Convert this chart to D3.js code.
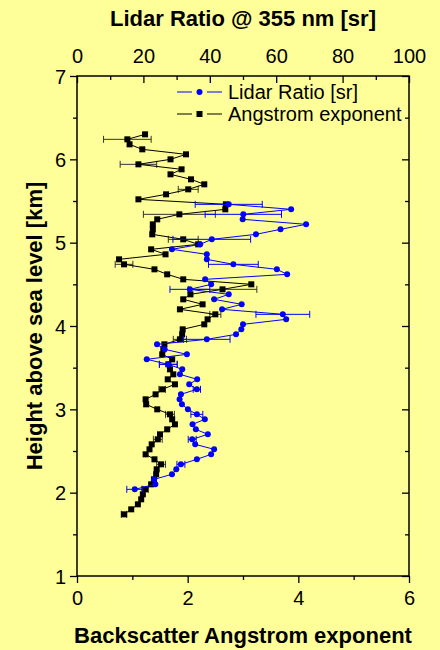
<!DOCTYPE html>
<html>
<head>
<meta charset="utf-8">
<script src="https://cdn.jsdelivr.net/npm/d3@7"></script>
<style>
  html, body { margin: 0; padding: 0; background: #FFFF99; }
  svg { display: block; font-family: "Liberation Sans", Arial, sans-serif; }
</style>
</head>
<body>
<svg id="chart" width="440" height="650"></svg>
<script>
// Backscatter Angstrom exponent profile (bottom axis)
const angHeight = [6.30,6.24,6.18,6.12,6.06,6.00,5.94,5.88,5.82,5.76,5.70,5.64,5.58,5.52,5.46,5.40,5.34,5.28,5.22,5.16,
  5.10,5.04,4.98,4.92,4.86,4.80,4.74,4.68,4.62,4.56,4.50,4.44,4.38,4.32,4.26,4.20,4.14,4.08,4.02,3.96,
  3.90,3.84,3.78,3.72,3.66,3.60,3.54,3.48,3.42,3.36,3.30,3.24,3.18,3.12,3.06,3.00,2.94,2.88,2.82,2.76,
  2.70,2.64,2.58,2.52,2.46,2.40,2.34,2.28,2.22,2.16,2.10,2.04,1.98,1.92,1.86,1.80,1.74];
const angValue = [1.23,0.91,0.95,1.18,1.97,1.69,1.11,1.89,1.69,2.06,2.30,2.01,1.61,1.11,2.69,2.68,1.85,1.45,1.37,1.37,
  1.36,1.92,2.19,1.34,1.60,0.76,0.85,1.40,1.63,1.92,3.15,2.63,2.05,1.92,2.27,1.86,2.50,2.36,2.30,1.91,
  1.90,1.86,1.58,1.56,1.54,1.72,1.65,1.68,1.74,1.64,1.77,1.54,1.42,1.24,1.25,1.45,1.68,1.72,1.77,1.63,
  1.50,1.46,1.35,1.31,1.24,1.40,1.52,1.44,1.43,1.39,1.34,1.23,1.19,1.16,1.10,0.98,0.85];
const angError = [0,0.43,0,0,0,0,0.33,0,0,0,0,0.18,0,0,0,0,0.65,0,0,0,
  0,0.27,0,0,0,0,0.16,0,0,0,0,0.62,0,0,0,0,0.10,0,0,0,
  0,0.12,0,0,0,0,0.16,0,0,0,0,0.06,0,0,0,0,0.08,0,0,0,
  0,0.08,0,0,0,0,0.08,0,0,0,0,0.06,0,0,0,0,0.05];

// Lidar ratio at 355 nm (top axis)
const lrHeight = [5.46,5.40,5.34,5.28,5.22,5.16,5.10,5.04,4.98,4.92,4.86,4.80,4.74,4.68,4.62,4.56,4.50,4.44,4.38,4.32,
  4.26,4.20,4.14,4.08,4.02,3.96,3.90,3.84,3.78,3.72,3.66,3.60,3.54,3.48,3.42,3.36,3.30,3.24,3.18,3.12,
  3.06,3.00,2.94,2.88,2.82,2.76,2.70,2.64,2.58,2.52,2.46,2.40,2.34,2.28,2.22,2.16,2.10,2.04];
const lrValue = [45.7,64.5,50.1,49.9,69.0,61.3,53.9,40.6,37.1,28.6,39.1,39.1,47.1,60.2,63.3,38.6,40.4,34.0,45.7,41.3,
  49.6,43.7,62.0,63.0,50.0,49.5,47.9,39.1,24.1,26.4,33.1,21.0,27.5,31.7,31.0,36.2,33.8,36.1,31.3,30.9,
  31.6,33.4,36.1,38.5,34.8,35.8,39.4,34.7,35.6,41.3,40.4,36.1,31.3,29.9,28.6,23.2,23.6,17.4];
const lrError = [10.1,0,11.5,0,0,0,0,11.7,0,0,0,0,7.5,0,0,0,0,6.0,0,0,
  0,0,8.1,0,0,0,0,7.0,0,0,0,0,2.7,0,0,0,0,1.1,0,0,
  0,0,1.8,0,0,0,0,1.2,0,0,0,0,1.2,0,0,0,0,2.4];

const heightTicks = [1,2,3,4,5,6,7];
const angTicks = [0,2,4,6];
const lrTicks = [0,20,40,60,80,100];

const legendLabels = ["Lidar Ratio [sr]", "Angstrom exponent"];
const titles = {
  top: "Lidar Ratio @ 355 nm [sr]",
  bottom: "Backscatter Angstrom exponent",
  left: "Height above sea level [km]"
};

const BLUE = "#0000FF";
const BLACK = "#000000";
const ERR_BLACK = "#333333";

const svg = d3.select("#chart");
const m = { left: 77, top: 76, right: 31, bottom: 74 };
const W = 440 - m.left - m.right;
const H = 650 - m.top - m.bottom;

const y = d3.scaleLinear().domain([1, 7]).range([H, 0]);
const xA = d3.scaleLinear().domain([0, 6]).range([0, W]);
const xL = d3.scaleLinear().domain([0, 100]).range([0, W]);

const g = svg.append("g").attr("transform", `translate(${m.left},${m.top})`);

function styleAxis(sel) {
  sel.select(".domain").remove();
  sel.selectAll(".tick line").attr("stroke", BLACK).attr("stroke-width", 1.3);
  sel.selectAll(".tick text").attr("fill", BLACK).style("font-size", "20px")
    .style("font-family", "'Liberation Sans', Arial, sans-serif");
}

// Bottom axis: Angstrom exponent
const gb = g.append("g").attr("transform", `translate(0,${H})`)
  .call(d3.axisBottom(xA).tickValues(angTicks).tickFormat(d3.format("d")).tickSize(7).tickPadding(8));
styleAxis(gb);
const gbm = g.append("g").attr("transform", `translate(0,${H})`)
  .call(d3.axisBottom(xA).tickValues([1,3,5]).tickFormat("").tickSize(4));
styleAxis(gbm);

// Top axis: lidar ratio
const gt = g.append("g")
  .call(d3.axisTop(xL).tickValues(lrTicks).tickFormat(d3.format("d")).tickSize(-7).tickPadding(6));
styleAxis(gt);
gt.selectAll(".tick text").attr("y", -13);
const gtm = g.append("g")
  .call(d3.axisTop(xL).tickValues([10,30,50,70,90]).tickFormat("").tickSize(-4));
styleAxis(gtm);

// Left axis: height
const gl = g.append("g")
  .call(d3.axisLeft(y).tickValues(heightTicks).tickFormat(d3.format("d")).tickSize(7).tickPadding(4));
styleAxis(gl);
gl.selectAll(".tick text").attr("dy", "0.35em");
const glm = g.append("g")
  .call(d3.axisLeft(y).tickValues([1.5,2.5,3.5,4.5,5.5,6.5]).tickFormat("").tickSize(4));
styleAxis(glm);

// Right axis: mirrored inward ticks
const gr = g.append("g").attr("transform", `translate(${W},0)`)
  .call(d3.axisRight(y).tickValues(heightTicks).tickFormat("").tickSize(-7));
styleAxis(gr);
const grm = g.append("g").attr("transform", `translate(${W},0)`)
  .call(d3.axisRight(y).tickValues([1.5,2.5,3.5,4.5,5.5,6.5]).tickFormat("").tickSize(-4));
styleAxis(grm);

// Frame
g.append("rect").attr("x", 0).attr("y", 0).attr("width", W).attr("height", H)
  .attr("fill", "none").attr("stroke", BLACK).attr("stroke-width", 1.5);

// Angstrom exponent series
const angData = angHeight.map((h, i) => ({ h, v: angValue[i], e: angError[i] }));
const lrData = lrHeight.map((h, i) => ({ h, v: lrValue[i], e: lrError[i] }));

function errorBars(data, x, color) {
  const eg = g.append("g").attr("stroke", color).attr("stroke-width", 1).attr("fill", "none");
  data.filter(d => d.e > 0).forEach(d => {
    const yy = y(d.h), x0 = x(d.v - d.e), x1 = x(d.v + d.e);
    eg.append("line").attr("x1", x0).attr("x2", x1).attr("y1", yy).attr("y2", yy);
    eg.append("line").attr("x1", x0).attr("x2", x0).attr("y1", yy - 3.5).attr("y2", yy + 3.5);
    eg.append("line").attr("x1", x1).attr("x2", x1).attr("y1", yy - 3.5).attr("y2", yy + 3.5);
  });
}

const line = (x) => d3.line().x(d => x(d.v)).y(d => y(d.h));

errorBars(angData, xA, ERR_BLACK);
g.append("path").datum(angData).attr("d", line(xA))
  .attr("fill", "none").attr("stroke", BLACK).attr("stroke-width", 1);
g.append("g").selectAll("rect").data(angData).join("rect")
  .attr("x", d => xA(d.v) - 3).attr("y", d => y(d.h) - 3)
  .attr("width", 6).attr("height", 6).attr("fill", BLACK);

// Lidar ratio series
errorBars(lrData, xL, BLUE);
g.append("path").datum(lrData).attr("d", line(xL))
  .attr("fill", "none").attr("stroke", BLUE).attr("stroke-width", 1);
g.append("g").selectAll("circle").data(lrData).join("circle")
  .attr("cx", d => xL(d.v)).attr("cy", d => y(d.h)).attr("r", 3).attr("fill", BLUE);

// Legend
const lg = svg.append("g");
const legendRows = [
  { label: legendLabels[0], color: BLUE, shape: "circle", y: 92 },
  { label: legendLabels[1], color: BLACK, shape: "square", y: 114 }
];
legendRows.forEach(r => {
  lg.append("line").attr("x1", 177).attr("x2", 192).attr("y1", r.y).attr("y2", r.y)
    .attr("stroke", r.color).attr("stroke-width", 1);
  lg.append("line").attr("x1", 207).attr("x2", 222).attr("y1", r.y).attr("y2", r.y)
    .attr("stroke", r.color).attr("stroke-width", 1);
  if (r.shape === "circle") {
    lg.append("circle").attr("cx", 199.5).attr("cy", r.y).attr("r", 3).attr("fill", r.color);
  } else {
    lg.append("rect").attr("x", 196.5).attr("y", r.y - 3).attr("width", 6).attr("height", 6).attr("fill", r.color);
  }
  lg.append("text").attr("x", 228).attr("y", r.y + 7).text(r.label)
    .attr("fill", BLACK).style("font-size", "20px");
});

// Axis titles
svg.append("text").attr("x", 243).attr("y", 26).attr("text-anchor", "middle")
  .style("font-size", "22px").style("font-weight", "bold").text(titles.top);
svg.append("text").attr("x", 243).attr("y", 643).attr("text-anchor", "middle")
  .style("font-size", "22px").style("font-weight", "bold").text(titles.bottom);
svg.append("text").attr("transform", "translate(42,326) rotate(-90)").attr("text-anchor", "middle")
  .style("font-size", "22px").style("font-weight", "bold").text(titles.left);
</script>
</body>
</html>
